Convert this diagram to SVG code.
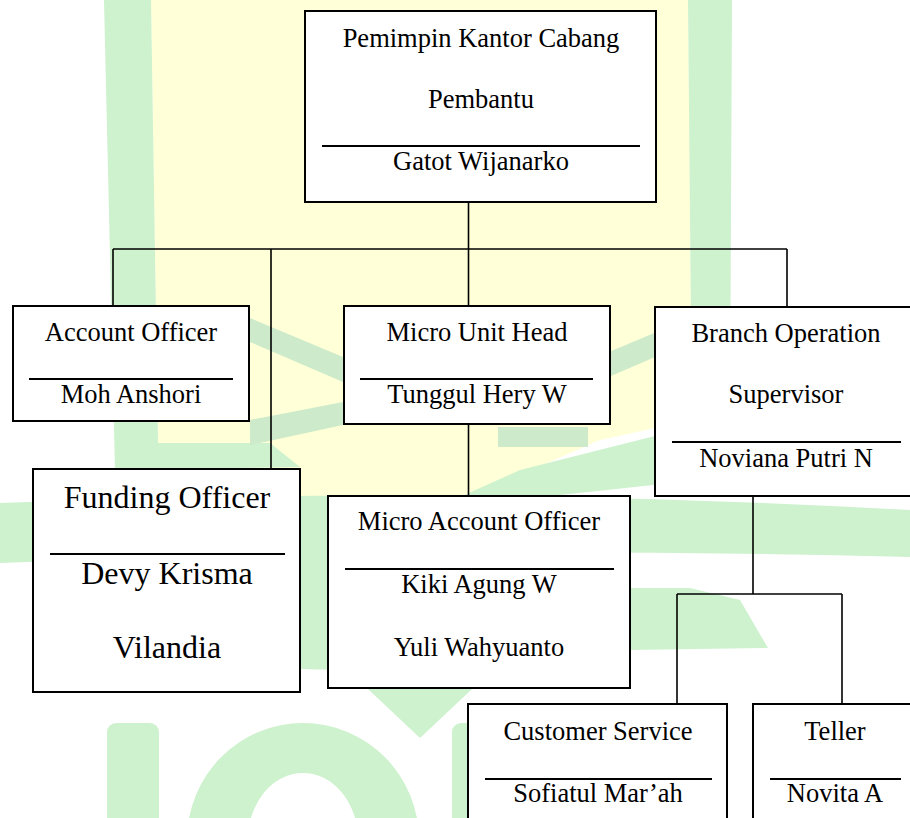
<svg xmlns="http://www.w3.org/2000/svg" width="910" height="818" viewBox="0 0 910 818">
<style>
.bg{fill:#ffffff}
.wy{fill:#ffffd8}
.wg{fill:#cdf2cd}
.ws{fill:#cdebcb}
.box{fill:#ffffff;stroke:#000;stroke-width:2}
.sep{stroke:#000;stroke-width:2.2}
.con{stroke:#000;stroke-width:1.6;fill:none}
text{font-family:"Liberation Serif","Times New Roman",serif;font-size:26.5px;fill:#000;text-anchor:middle}
.big{font-size:32px}
</style>
<rect class="bg" x="0" y="0" width="910" height="818"/>
<g id="watermark">
  <polygon class="wy" points="151,0 688,0 692,420 600,440 470,497 300,497 158,443"/>
  <polygon class="wg" points="104,0 151,0 158,443 270,443 300,467 115,470"/>
  <polygon class="wg" points="688,0 732,0 730,420 692,430"/>
  <polygon class="ws" points="250,318 343,357 343,382 250,342"/>
  <polygon class="ws" points="250,420 343,402 343,425 250,445"/>
  <polygon class="ws" points="597,357 690,318 690,342 597,382"/>
  <polygon class="ws" points="498,427 588,427 588,447 498,447"/>
  <polygon class="wg" points="460,497 520,470 655,436 700,430 700,480 560,495"/>
  <path class="wg" d="M0,503 Q455,485 910,510 L910,557 Q455,545 0,563 Z"/>
  <polygon class="wg" points="260,540 340,540 340,670 260,668"/>
  <polygon class="wg" points="630,588 690,588 740,600 768,648 630,650"/>
  <polygon class="wg" points="368,689 472,689 420,738"/>
  <rect class="wg" x="107" y="723" width="52" height="120" rx="9"/>
  <path class="wg" fill-rule="evenodd" d="M187,840 A116,117 0 0 1 419,840 A116,117 0 0 1 187,840 Z M248,840 A55,67 0 0 0 358,840 A55,67 0 0 0 248,840 Z"/>
  <rect class="wg" x="452" y="723" width="50" height="120" rx="9"/>
</g>
<g id="connectors">
  <line class="con" x1="468.5" y1="202" x2="468.5" y2="306"/>
  <line class="con" x1="113" y1="249" x2="787" y2="249"/>
  <line class="con" x1="113" y1="249" x2="113" y2="306"/>
  <line class="con" x1="271" y1="249" x2="271" y2="469"/>
  <line class="con" x1="787" y1="249" x2="787" y2="307"/>
  <line class="con" x1="468.5" y1="424" x2="468.5" y2="496"/>
  <line class="con" x1="753" y1="496" x2="753" y2="594"/>
  <line class="con" x1="677" y1="594" x2="842" y2="594"/>
  <line class="con" x1="677" y1="594" x2="677" y2="704"/>
  <line class="con" x1="842" y1="594" x2="842" y2="704"/>
</g>
<g id="pimpinan">
  <rect class="box" x="305" y="11" width="351" height="191"/>
  <line class="sep" x1="322" y1="146" x2="640" y2="146"/>
  <text x="481" y="47">Pemimpin Kantor Cabang</text>
  <text x="481" y="108">Pembantu</text>
  <text x="481" y="170">Gatot Wijanarko</text>
</g>
<g id="account-officer">
  <rect class="box" x="13" y="306" width="236" height="115"/>
  <line class="sep" x1="29" y1="379" x2="233" y2="379"/>
  <text x="131" y="341">Account Officer</text>
  <text x="131" y="403">Moh Anshori</text>
</g>
<g id="micro-unit-head">
  <rect class="box" x="344" y="306" width="266" height="118"/>
  <line class="sep" x1="360" y1="379" x2="593" y2="379"/>
  <text x="477" y="341">Micro Unit Head</text>
  <text x="477" y="403">Tunggul Hery W</text>
</g>
<g id="branch-operation">
  <rect class="box" x="655" y="307" width="262" height="189"/>
  <line class="sep" x1="672" y1="442" x2="901" y2="442"/>
  <text x="786" y="342">Branch Operation</text>
  <text x="786" y="403">Supervisor</text>
  <text x="786" y="467">Noviana Putri N</text>
</g>
<g id="funding-officer">
  <rect class="box" x="33" y="469" width="267" height="223"/>
  <line class="sep" x1="50" y1="554" x2="285" y2="554"/>
  <text class="big" x="167" y="508">Funding Officer</text>
  <text class="big" x="167" y="584">Devy Krisma</text>
  <text class="big" x="167" y="658">Vilandia</text>
</g>
<g id="micro-account-officer">
  <rect class="box" x="328" y="496" width="302" height="192"/>
  <line class="sep" x1="345" y1="569" x2="614" y2="569"/>
  <text x="479" y="530">Micro Account Officer</text>
  <text x="479" y="593">Kiki Agung W</text>
  <text x="479" y="656">Yuli Wahyuanto</text>
</g>
<g id="customer-service">
  <rect class="box" x="468" y="704" width="259" height="140"/>
  <line class="sep" x1="485" y1="779" x2="712" y2="779"/>
  <text x="598" y="740">Customer Service</text>
  <text x="598" y="802">Sofiatul Mar’ah</text>
</g>
<g id="teller">
  <rect class="box" x="753" y="704" width="164" height="140"/>
  <line class="sep" x1="770" y1="779" x2="901" y2="779"/>
  <text x="835" y="740">Teller</text>
  <text x="835" y="802">Novita A</text>
</g>
</svg>
